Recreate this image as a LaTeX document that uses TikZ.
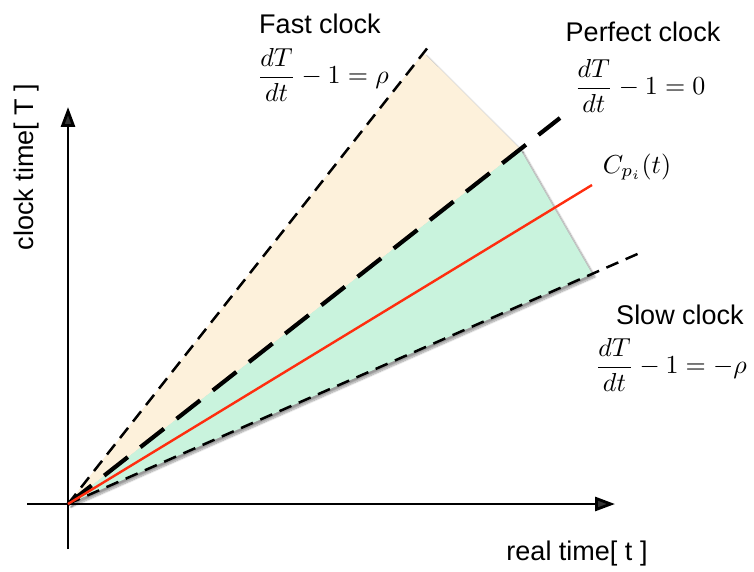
\documentclass[tikz,border=0pt]{standalone}
\usepackage{graphicx}
\usepackage[no-math]{fontspec}
\newfontfamily\labfont{Liberation Sans}
\usetikzlibrary{arrows.meta,calc,shadows.blur}

\definecolor{beige}{RGB}{253,241,219}
\definecolor{mint}{RGB}{201,243,221}
\definecolor{clockred}{RGB}{255,45,15}

\newcommand{\bigmath}[1]{\scalebox{2.6}{$\displaystyle #1$}}

\begin{document}
\begin{tikzpicture}[x=1pt,y=-1pt,
  axis/.style={line width=2.8pt, -{Triangle[length=20pt,width=14pt]}},
  thindash/.style={line width=2.5pt, dash pattern=on 13pt off 8pt},
  thickdash/.style={line width=4.2pt, dash pattern=on 30pt off 16pt},
  lab/.style={font=\labfont\fontsize{27}{30}\selectfont, inner sep=0pt},
  eq/.style={inner sep=0pt},
  region/.style={blur shadow={shadow xshift=3pt, shadow yshift=-3pt, shadow blur steps=10, shadow opacity=40}}
]
\useasboundingbox (0,0) rectangle (754,572);

% key points
\coordinate (O) at (68,504);
\coordinate (F) at (429,46);
\coordinate (P) at (560,118);
\coordinate (R) at (592,185);
\coordinate (S) at (642,252);
\coordinate (xl) at (27,504);
\coordinate (xr) at (615,504);
\coordinate (yb) at (68,549);
\coordinate (yt) at (68,107);

\coordinate (Fc) at ($(O)!0.985!(F)$);
\coordinate (Pc) at ($(O)!0.919!(P)$);
\coordinate (Sc) at ($(O)!0.913!(S)$);

% shaded regions
\fill[beige, region] (O) -- (Fc) -- (Pc) -- cycle;
\fill[mint, region] (O) -- (Pc) -- (Sc) -- cycle;
\fill[beige] (O) -- (Fc) -- (Pc) -- cycle;

% axes
\draw[axis] (xl) -- (xr);
\draw[axis] (yb) -- (yt);

% clock lines
\draw[thindash] (O) -- (F);
\draw[thindash] (O) -- (S);
\draw[thickdash] (O) -- (P);
\draw[clockred, line width=2.4pt] (O) -- (R);

% labels
\node[lab] (fast) at (320,24) {Fast clock};
\node[eq] (fasteq) at (323,75) {\bigmath{\frac{dT}{dt}-1=\rho}};
\node[lab] (perf) at (643,32) {Perfect clock};
\node[eq] (perfeq) at (640,86) {\bigmath{\frac{dT}{dt}-1=0}};
\node[lab] (slow) at (680,315) {Slow clock};
\node[eq] (sloweq) at (671,365) {\bigmath{\frac{dT}{dt}-1=-\rho}};
\node[eq] (cpi) at (637,167) {\bigmath{C_{p_i}(t)}};
\node[lab, rotate=90] (ylab) at (27,167) {clock time[ T ]};
\node[lab] (xlab) at (577,554) {real time[ t ]};
\end{tikzpicture}
\end{document}
